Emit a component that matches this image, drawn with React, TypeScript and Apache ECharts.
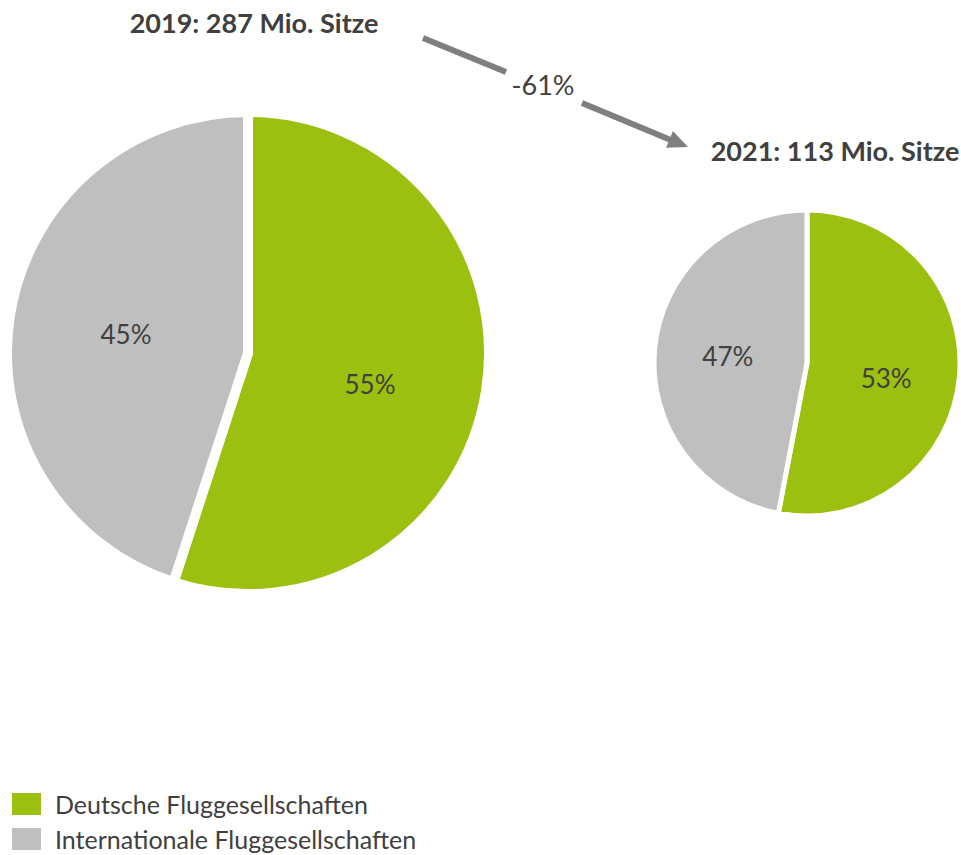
import React, { useEffect, useRef } from "react";
import * as echarts from "echarts";

const categories = ["Deutsche Fluggesellschaften", "Internationale Fluggesellschaften"];
const years = ["2019", "2021"];
const seatsMio = [287, 113];
const share2019 = [55, 45];
const share2021 = [53, 47];
const changeLabel = "-61%";
const colors = ["#9BC00F", "#BFBFBF"];

const FONT = "Lato, 'Liberation Sans', sans-serif";
const TEXT = "#404040";

export default function App() {
  const ref = useRef<HTMLDivElement>(null);
  useEffect(() => {
    if (!ref.current) return;
    const chart = echarts.init(ref.current, null, { renderer: "svg" });
    const mkSeries = (data: number[], center: [number, number], radius: number, bw: number, dyGreen: number) => ({
      type: "pie",
      center,
      radius,
      startAngle: 90,
      clockwise: true,
      silent: true,
      data: data.map((v, i) => ({ name: categories[i], value: v, itemStyle: { color: colors[i] } })),
      itemStyle: { borderColor: "#ffffff", borderWidth: bw },
      label: {
        show: true,
        position: "inner",
        formatter: "{d}%",
        fontSize: 26,
        color: TEXT,
        fontFamily: FONT,
      },
      labelLayout: (p: any) => (p.dataIndex === 0 ? { dy: dyGreen } : {}),
      labelLine: { show: false },
      emphasis: { disabled: true },
    });
    const ux = 0.925, uy = 0.38;
    const tip = [688, 147];
    const base = [tip[0] - 20 * ux, tip[1] - 20 * uy];
    const px = -uy, py = ux;
    chart.setOption({
      animation: false,
      legend: {
        orient: "vertical",
        left: 10,
        top: 791,
        height: 80,
        padding: 0,
        itemWidth: 31,
        itemHeight: 24,
        itemGap: 9,
        icon: "rect",
        data: categories,
        textStyle: { fontSize: 25, lineHeight: 24, color: TEXT, fontFamily: FONT, padding: [0, 0, 0, 8] },
        selectedMode: false,
      },
      series: [
        mkSeries(share2019, [248, 353], 241, 10, 12),
        mkSeries(share2021, [807, 363], 153, 5, 8),
      ],
      graphic: [
        {
          type: "text",
          x: 254,
          y: 22,
          style: {
            text: `${years[0]}: ${seatsMio[0]} Mio. Sitze`,
            fontSize: 27,
            fontWeight: "bold",
            fontFamily: FONT,
            fill: TEXT,
            align: "center",
            verticalAlign: "middle",
          },
        },
        {
          type: "text",
          x: 835,
          y: 150,
          style: {
            text: `${years[1]}: ${seatsMio[1]} Mio. Sitze`,
            fontSize: 27,
            fontWeight: "bold",
            fontFamily: FONT,
            fill: TEXT,
            align: "center",
            verticalAlign: "middle",
          },
        },
        {
          type: "line",
          shape: { x1: 423, y1: 38, x2: 506, y2: 72 },
          style: { stroke: "#7F7F7F", lineWidth: 6 },
        },
        {
          type: "line",
          shape: { x1: 582, y1: 103, x2: base[0] + 2 * ux, y2: base[1] + 2 * uy },
          style: { stroke: "#7F7F7F", lineWidth: 6 },
        },
        {
          type: "polygon",
          shape: {
            points: [
              tip,
              [base[0] + 9 * px, base[1] + 9 * py],
              [base[0] - 9 * px, base[1] - 9 * py],
            ],
          },
          style: { fill: "#7F7F7F" },
        },
        {
          type: "text",
          x: 543,
          y: 84,
          style: {
            text: changeLabel,
            fontSize: 27,
            fontFamily: FONT,
            fill: TEXT,
            align: "center",
            verticalAlign: "middle",
          },
        },
      ],
    });
    return () => chart.dispose();
  }, []);
  return (
    <div
      ref={ref}
      style={{ position: "absolute", left: 0, top: 0, width: 961, height: 855 }}
    />
  );
}
